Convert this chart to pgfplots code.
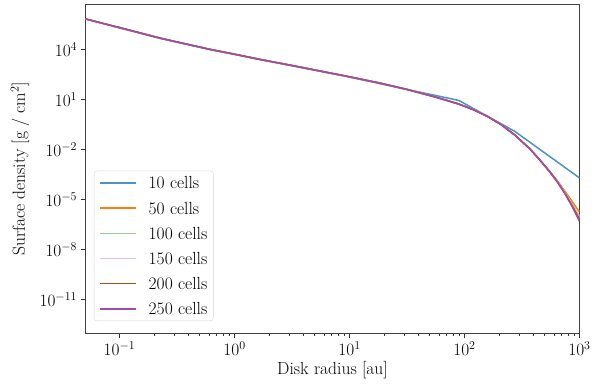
\documentclass[border=0pt]{standalone}
\usepackage{pgfplots}
\usepackage{pgfplotstable}
\pgfplotsset{compat=1.18}
\definecolor{c10}{HTML}{4C92C3}
\definecolor{c50}{HTML}{FF7F0E}
\definecolor{c100}{HTML}{96CF96}
\definecolor{c150}{HTML}{F1BBE0}
\definecolor{c200}{HTML}{A8501F}
\definecolor{c250}{HTML}{9E4CA8}
\pgfplotstableread{
x        c50       c100      c150      c200      c250
0.0506   7.24e5    7.24e5    7.24e5    7.24e5    7.24e5
0.0875   2.75e5    2.75e5    2.75e5    2.75e5    2.75e5
0.1      2.19e5    2.19e5    2.19e5    2.19e5    2.19e5
0.227    5.01e4    5.01e4    5.01e4    5.01e4    5.01e4
0.617    1.05e4    1.05e4    1.05e4    1.05e4    1.05e4
1        5.50e3    5.50e3    5.50e3    5.50e3    5.50e3
1.675    2.63e3    2.63e3    2.63e3    2.63e3    2.63e3
3.162    1.15e3    1.15e3    1.15e3    1.15e3    1.15e3
10       240       240       240       240       240
18.45    100       100       100       100       100
31.62    41.7      41.7      41.7      41.7      41.7
56.23    14.45     14.45     14.45     14.45     14.45
89.3     5.50      5.50      5.50      5.50      5.50
118.9    2.57      2.57      2.57      2.57      2.57
158.5    1.0       1.0       1.0       1.0       1.0
208.9    0.316     0.316     0.316     0.316     0.316
273.8    0.0759    0.0759    0.0759    0.0759    0.0759
369.8    0.01122   0.01122   0.01122   0.01122   0.01122
446.7    2.63e-3   2.63e-3   2.63e-3   2.63e-3   2.63e-3
550.8    5.01e-4   4.79e-4   4.73e-4   4.68e-4   4.68e-4
645.7    1.26e-4   1.15e-4   1.12e-4   1.10e-4   1.07e-4
743.0    3.31e-5   2.82e-5   2.63e-5   2.51e-5   2.40e-5
861.0    7.94e-6   5.62e-6   5.01e-6   4.47e-6   3.98e-6
1000     1.78e-6   1.0e-6    7.94e-7   6.31e-7   5.01e-7
}\finetable
\pgfplotstableread{
x        y
0.0875   2.63e5
0.269    3.72e4
0.832    6.92e3
2.818    1.29e3
9.33     257
28.84    47.9
89.3     9.12
273.8    0.126
1000     2.00e-4
}\coarsetable
\begin{document}
\begin{tikzpicture}
\begin{axis}[
  name=ax,
  scale only axis,
  width=494pt, height=329pt,
  xmode=log, ymode=log,
  xmin=0.0506, xmax=1000,
  ymin=9.1e-14, ymax=5.5e6,
  xtick={0.1,1,10,100,1000},
  ytick={1e4,1e1,1e-2,1e-5,1e-8,1e-11},
  yminorticks=false,
  tick align=outside,
  xtick pos=bottom, ytick pos=left,
  major tick length=4.9pt, minor tick length=2.8pt,
  every tick/.style={black!80, line width=0.8pt},
  axis line style={black!75, line width=0.8pt},
  tick label style={font=\fontsize{17.5}{20}\selectfont},
  label style={font=\fontsize{17.5}{20}\selectfont},
  xlabel={Disk radius [au]},
  ylabel={Surface density [g / cm$^2$]},
  xlabel style={at={(axis description cs:0.5,-0.1115)}, anchor=center},
  ylabel style={at={(axis description cs:-0.1326,0.5)}, anchor=center},
  legend cell align=left,
  legend image code/.code={\draw[#1, line width=1.5pt] (0pt,0pt) -- (36pt,0pt);},
  legend style={at={(0.0172,0.037)}, anchor=south west,
    draw=black!15, rounded corners=3pt, fill=white,
    font=\fontsize{17.5}{20}\selectfont,
    inner xsep=5pt, inner ysep=5pt,
    row sep=11.2pt,
    nodes={inner sep=1pt, text height=12pt, text depth=0pt},
    /tikz/every odd column/.style={column sep=11pt}},
]
\addplot[c10, line width=1.5pt, no markers] table[x=x, y=y] {\coarsetable};
\addlegendentry{10 cells}
\addplot[c50, line width=1.5pt, no markers] table[x=x, y=c50] {\finetable};
\addlegendentry{50 cells}
\addplot[c100, line width=1.5pt, no markers] table[x=x, y=c100] {\finetable};
\addlegendentry{100 cells}
\addplot[c150, line width=1.5pt, no markers] table[x=x, y=c150] {\finetable};
\addlegendentry{150 cells}
\addplot[c200, line width=1.5pt, no markers] table[x=x, y=c200] {\finetable};
\addlegendentry{200 cells}
\addplot[c250, line width=1.5pt, no markers] table[x=x, y=c250] {\finetable};
\addlegendentry{250 cells}
\end{axis}
\pgfresetboundingbox
\path ([shift={(-85.5pt,-49.7pt)}]ax.south west) rectangle ++(599pt,383pt);
\end{tikzpicture}
\end{document}
